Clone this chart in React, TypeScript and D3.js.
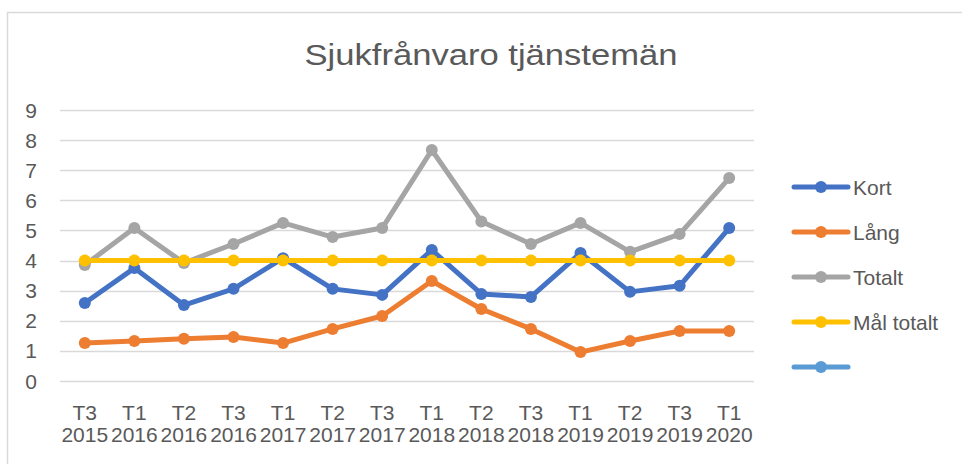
import * as d3 from "d3";

const periods = ["T3", "T1", "T2", "T3", "T1", "T2", "T3", "T1", "T2", "T3", "T1", "T2", "T3", "T1"];
const years = ["2015", "2016", "2016", "2016", "2017", "2017", "2017", "2018", "2018", "2018", "2019", "2019", "2019", "2020"];
const kort = [2.59, 3.75, 2.52, 3.06, 4.08, 3.06, 2.86, 4.35, 2.89, 2.79, 4.25, 2.96, 3.16, 5.08];
const lang = [1.26, 1.33, 1.4, 1.46, 1.26, 1.73, 2.16, 3.32, 2.39, 1.73, 0.96, 1.33, 1.66, 1.66];
const totalt = [3.85, 5.08, 3.92, 4.55, 5.25, 4.78, 5.08, 7.67, 5.3, 4.55, 5.25, 4.29, 4.88, 6.74];
const malTotalt = [4, 4, 4, 4, 4, 4, 4, 4, 4, 4, 4, 4, 4, 4];
const yTicks = [0, 1, 2, 3, 4, 5, 6, 7, 8, 9];

const series = [
  { name: "Kort", values: kort, color: "#4472C4" },
  { name: "Lång", values: lang, color: "#ED7D31" },
  { name: "Totalt", values: totalt, color: "#A5A5A5" },
  { name: "Mål totalt", values: malTotalt, color: "#FFC000" },
  { name: "", values: [] as number[], color: "#5B9BD5" },
];

const width = 962;
const height = 464;
const font = "'Liberation Sans', Arial, sans-serif";
const textColor = "#595959";

export default function App() {
  const keys = periods.map((_, i) => String(i));
  const x = d3.scaleBand(keys, [60, 754]);
  const y = d3.scaleLinear([0, 9], [381, 110]);
  const cx = (i: number) => (x(String(i)) ?? 0) + x.bandwidth() / 2;
  const line = d3
    .line<number>()
    .x((_, i) => cx(i))
    .y((d) => y(d));

  return (
    <svg width={width} height={height} style={{ position: "absolute", left: 0, top: 0, background: "#fff" }}>
      <rect x={7.5} y={12.5} width={width + 10} height={height + 10} fill="#fff" stroke="#D9D9D9" strokeWidth={1.5} />
      <text x={491} y={65} textAnchor="middle" fontFamily={font} fontSize={30} fill={textColor} textLength={373} lengthAdjust="spacingAndGlyphs">
        Sjukfrånvaro tjänstemän
      </text>

      <g>
        {yTicks.map((t) => (
          <g key={t}>
            <line x1={60} x2={754} y1={Math.round(y(t)) + 0.5} y2={Math.round(y(t)) + 0.5} stroke="#D9D9D9" strokeWidth={1.3} />
            <text x={37} y={y(t)} dy="0.36em" textAnchor="end" fontFamily={font} fontSize={21} fill={textColor}>
              {t}
            </text>
          </g>
        ))}
      </g>

      <g fontFamily={font} fontSize={21} fill={textColor} textAnchor="middle">
        {periods.map((p, i) => (
          <text key={i} x={cx(i)} y={420}>
            <tspan x={cx(i)}>{p}</tspan>
            <tspan x={cx(i)} y={442}>{years[i]}</tspan>
          </text>
        ))}
      </g>

      {series.map((s) =>
        s.values.length ? (
          <g key={s.name}>
            <path d={line(s.values) ?? ""} fill="none" stroke={s.color} strokeWidth={5} strokeLinejoin="round" />
            {s.values.map((v, i) => (
              <circle key={i} cx={cx(i)} cy={y(v)} r={6} fill={s.color} />
            ))}
          </g>
        ) : null
      )}

      <g fontFamily={font} fontSize={21} fill={textColor}>
        {series.map((s, i) => {
          const ly = 187 + i * 45;
          return (
            <g key={i}>
              <line x1={794} x2={848} y1={ly} y2={ly} stroke={s.color} strokeWidth={5} strokeLinecap="round" />
              <circle cx={821} cy={ly} r={6} fill={s.color} />
              <text x={853} y={ly} dy="0.36em">
                {s.name}
              </text>
            </g>
          );
        })}
      </g>
    </svg>
  );
}
